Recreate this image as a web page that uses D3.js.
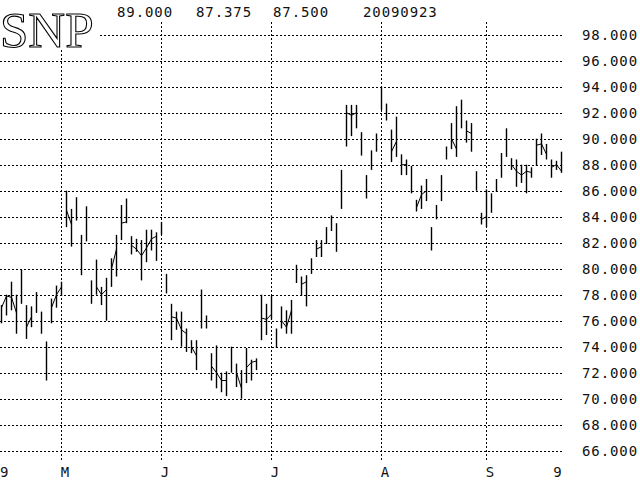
<!DOCTYPE html>
<html><head><meta charset="utf-8">
<script src="https://cdn.jsdelivr.net/npm/d3@7"></script>
<style>html,body{margin:0;padding:0;background:#fff;} svg{display:block;}</style>
</head><body>
<svg id="c" width="640" height="480"></svg>
<script>
// ---------- data ----------
const symbol = "SNP";
const headerValues = ["89.000", "87.375", "87.500", "20090923"];

const highs = [
  77.2, 78.0, 79.0, 78.0, 79.9, 77.2, 77.1, 78.2, 76.7, 74.4, 77.7, 78.7, 79.0,
  86.0, 84.6, 85.5, 82.6, 84.8, 79.1, 80.7, 78.6, 79.3, 80.8, 82.6, 84.9, 85.4,
  82.5, 82.3, 82.2, 83.0, 83.0, 82.8, 83.6,
  79.6, 77.3, 76.7, 76.7, 75.4, 74.5, 74.5, 78.4, 76.4, 73.5, 74.1, 72.0, 72.1,
  74.0, 72.7, 72.2, 73.9, 73.0, 73.1, 78.0, 77.3, 77.9,
  75.4, 77.1, 76.8, 77.6, 80.3, 79.4, 79.5, 80.8, 82.2, 82.2, 83.2, 84.1, 83.5,
  87.6, 92.6, 92.6, 92.6, 90.5, 87.2, 89.1, 90.4,
  94.0, 92.7, 90.7, 91.7, 88.8, 88.4, 87.9, 85.3, 86.4, 86.9, 83.2, 84.9, 87.2,
  89.4, 91.2, 92.5, 93.0, 91.4, 91.2, 87.5,
  84.3, 86.1, 85.8, 86.9, 88.9, 90.8, 88.5, 88.4, 88.0, 88.0, 87.8, 90.0, 90.4,
  89.6, 88.4, 88.3, 89.0
];
const lows = [
  75.8, 76.4, 76.8, 75.0, 77.3, 74.6, 75.5, 76.6, 75.0, 71.4, 75.8, 77.0, 77.9,
  83.2, 81.7, 83.7, 79.5, 82.1, 77.3, 78.0, 77.2, 76.0, 78.6, 79.4, 82.2, 83.5,
  81.1, 81.3, 79.1, 80.5, 81.4, 80.6, 82.6,
  78.1, 74.5, 75.3, 74.0, 73.6, 73.5, 72.2, 75.4, 75.4, 71.4, 70.8, 70.5, 70.2,
  72.0, 70.9, 70.0, 71.2, 71.4, 72.2, 74.5, 74.9, 76.1,
  73.9, 75.4, 75.0, 75.0, 78.9, 77.9, 77.1, 79.6, 80.9, 80.9, 81.9, 82.9, 81.3,
  84.6, 89.4, 90.2, 90.8, 88.7, 85.4, 87.6, 89.0,
  92.2, 91.4, 88.2, 88.6, 87.2, 87.2, 85.8, 84.4, 84.6, 85.2, 81.4, 83.8, 85.2,
  88.4, 89.2, 88.6, 90.8, 89.7, 89.0, 86.0,
  83.4, 83.2, 84.3, 85.9, 87.0, 88.6, 87.6, 86.3, 86.6, 85.8, 87.0, 87.9, 88.75,
  88.4, 87.0, 87.6, 87.375
];
const closes = [
  77.0, 77.9, 77.8, 76.6, 79.0, 75.5, 76.3, 77.7, 76.0, 73.0, 77.0, 78.0, 78.6,
  84.5, 83.4, 84.3, 82.0, 82.1, 77.8, 78.6, 78.0, 78.4, 80.0, 81.5, 83.5, 83.6,
  81.8, 81.5, 81.0, 81.6, 82.3, 82.5, 83.0,
  78.5, 76.3, 76.2, 75.3, 75.0, 74.0, 73.3, 76.8, 76.1, 72.5, 72.0, 71.4, 71.4,
  73.2, 72.0, 70.8, 72.4, 72.8, 72.9, 76.2, 76.1, 76.5,
  74.5, 76.0, 75.5, 76.8, 79.5, 78.8, 79.0, 80.2, 81.5, 81.7, 82.7, 83.6, 82.0,
  86.5, 92.0, 91.8, 92.0, 89.5, 86.2, 88.5, 89.5,
  93.5, 92.0, 89.0, 89.8, 88.0, 88.0, 86.5, 84.7, 85.7, 86.0, 82.5, 84.2, 86.0,
  88.8, 90.0, 89.2, 91.5, 90.6, 90.4, 86.5,
  83.8, 84.0, 85.0, 86.5, 88.4, 88.8, 88.0, 87.5, 87.2, 87.5, 87.4, 89.5, 89.6,
  88.8, 87.8, 88.0, 87.5
];

// time-axis labels and the bar index where each sits
const monthLabels = ["9", "M", "J", "J", "A", "S", "9"];
const monthIndex  = [-0.26, 12, 32, 54, 76, 97, 110.5];
const monthGrid   = [false, true, true, true, true, true, false];

// price ticks
const yTicks = [66, 68, 70, 72, 74, 76, 78, 80, 82, 84, 86, 88, 90, 92, 94, 96, 98];

// ---------- drawing ----------
const svg = d3.select("#c");
svg.append("rect").attr("width", 640).attr("height", 480).attr("fill", "#fff");

const x = d3.scaleLinear().domain([0, highs.length - 1]).range([1.3, 561.3]);
const y = d3.scaleLinear().domain([66, 98]).range([450.7, 34.7]);

const monoFont = "'DejaVu Sans Mono', 'Liberation Mono', monospace";
const px = v => Math.round(v) + 0.5;

// horizontal grid + right labels
const gridRight = 564;
const gy = svg.append("g");
yTicks.forEach(t => {
  gy.append("line")
    .attr("x1", t === 98 ? 100 : 0).attr("x2", gridRight)
    .attr("y1", px(y(t))).attr("y2", px(y(t)))
    .attr("stroke", "#000").attr("stroke-width", 1)
    .attr("stroke-dasharray", "2,2");
  gy.append("text")
    .attr("x", 582).attr("y", y(t)).attr("dy", "0.36em")
    .attr("font-family", monoFont).attr("font-size", 14)
    .attr("letter-spacing", "0.9px")
    .attr("fill", "#111")
    .text(d3.format(".3f")(t));
});

// vertical grid + bottom labels
const gx = svg.append("g");
monthLabels.forEach((lab, k) => {
  const xv = x(monthIndex[k]);
  if (monthGrid[k]) {
    gx.append("line")
      .attr("x1", px(xv)).attr("x2", px(xv))
      .attr("y1", k === 1 ? 50 : 22).attr("y2", 462)
      .attr("stroke", "#000").attr("stroke-width", 1)
      .attr("stroke-dasharray", "2,2");
  }
  gx.append("text")
    .attr("x", Math.max(0, xv - 0.5)).attr("y", 477)
    .attr("font-family", monoFont).attr("font-size", 14)
    .attr("fill", "#111")
    .text(lab);
});

// title and header values
svg.append("text")
  .attr("x", 0).attr("y", 47)
  .attr("font-family", "'Liberation Serif', 'Times New Roman', serif")
  .attr("font-size", 51)
  .attr("fill", "#fff").attr("stroke", "#000").attr("stroke-width", 1.1)
  .text(symbol);

const headerX = [117, 196, 273, 363];
headerValues.forEach((h, k) => {
  svg.append("text")
    .attr("x", headerX[k]).attr("y", 16.5)
    .attr("font-family", monoFont).attr("font-size", 14)
    .attr("letter-spacing", "0.9px")
    .attr("fill", "#111")
    .text(h);
});

// close connectors: joined to the next bar only when the next bar trades through that close
const idx = d3.range(highs.length);
const links = idx.slice(0, -1).filter(i => closes[i] >= lows[i + 1] && closes[i] <= highs[i + 1]);
svg.append("g").selectAll("line").data(links).join("line")
  .attr("x1", i => px(x(i))).attr("y1", i => y(closes[i]))
  .attr("x2", i => px(x(i + 1))).attr("y2", i => y(closes[i + 1]))
  .attr("stroke", "#000").attr("stroke-width", 1);

// high-low bars
svg.append("g").selectAll("line").data(idx).join("line")
  .attr("x1", i => px(x(i))).attr("x2", i => px(x(i)))
  .attr("y1", i => y(highs[i])).attr("y2", i => y(lows[i]))
  .attr("stroke", "#000").attr("stroke-width", 1.4);
</script>
</body></html>
